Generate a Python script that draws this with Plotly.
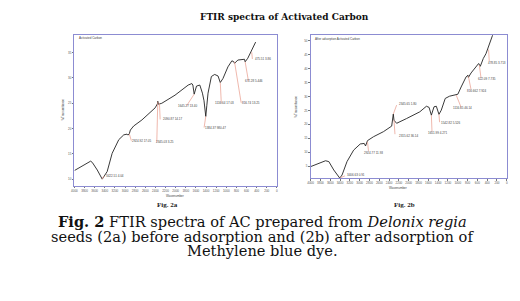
import plotly.graph_objects as go

# ---------------- data ----------------
# Fig. 2a : Activated Carbon (before adsorption)
wn_a = [4000, 3680, 3647, 3549, 3451, 3353, 3255, 3124, 3026, 2961, 2942, 2915, 2895,
        2830, 2667, 2405, 2360, 2353, 2340, 2320, 2274, 2013, 1752, 1680, 1660, 1634,
        1588, 1523, 1471, 1440, 1405, 1385, 1360, 1294, 1229, 1163, 1118, 1065, 967,
        889, 850, 836, 771, 640, 627, 575, 510, 444, 420]
tr_a = [11.7, 13.55, 13.3, 11.8, 10.0, 11.5, 15.1, 17.8, 18.75, 18.9, 18.7, 19.0, 19.7,
        20.5, 21.7, 24.1, 24.9, 25.4, 24.8, 24.9, 25.0, 26.6, 28.6, 28.9, 28.6, 26.8,
        28.4, 28.6, 27.0, 25.5, 22.4, 24.5, 27.0, 30.3, 30.7, 30.4, 29.1, 29.9, 32.2,
        33.4, 33.2, 32.9, 33.55, 33.7, 33.2, 33.9, 35.2, 36.6, 37.1]

# Fig. 2b : after adsorption of Methylene blue
wn_b = [4000, 3696, 3629, 3528, 3406, 3359, 3258, 3123, 2988, 2907, 2880, 2840, 2718,
        2516, 2347, 2330, 2314, 2300, 2280, 2246, 2044, 1774, 1639, 1585, 1538, 1484,
        1437, 1383, 1336, 1255, 1167, 1066, 998, 931, 830, 790, 783, 729, 628, 574,
        540, 479, 425, 358, 290]
tr_b = [4.9, 7.0, 6.7, 3.7, 0.8, 1.9, 6.7, 10.8, 13.0, 13.2, 12.3, 14.2, 15.6,
        17.4, 19.4, 21.0, 23.7, 21.5, 21.0, 20.4, 22.1, 24.5, 26.5, 26.1, 23.3, 26.3,
        26.5, 23.6, 25.1, 29.3, 30.1, 30.5, 30.8, 33.4, 37.0, 37.6, 36.8, 38.4, 40.6, 41.8,
        40.8, 43.6, 45.3, 48.3, 51.9]

# peak labels: text, peak (wn, value), leader end (wn, value), text position
peaks_a_text = ["3422.51 4.04", "2924.92 17.05", "2345.03 3.25", "2090.87 14.17",
                "1645.27 13.40", "1384.37 980.47", "1116.64 17.03", "816.74 13.25",
                "672.28 5.446", "475.51 3.86"]
peaks_a_wn = [3451, 2915, 2353, 2320, 1634, 1405, 1118, 837, 627, 497]
peaks_a_tr = [10.0, 18.95, 25.3, 25.0, 26.8, 22.4, 29.1, 33.2, 33.2, 35.1]
lab_a_wn = [3418, 2876, 2373, 2307, 1784, 1438, 1098, 706, 562, 484]
lab_a_tr = [10.6, 17.6, 17.3, 21.8, 24.5, 20.2, 25.0, 25.1, 29.4, 33.75]
lab_a_txt_wn = [3410, 2900, 2420, 2280, 2000, 1460, 1265, 720, 662, 478]

peaks_b_text = ["3406.63 0.91", "2924.77 11.93", "2345.65 1.80", "2315.62 36.14",
                "1651.99 4.271", "1542.82 5.526", "1116.65 46.14", "816.662 7.924",
                "622.09 7.735", "478.85 3.713"]
peaks_b_wn = [3406, 2840, 2314, 2300, 1538, 1383, 1032, 783, 560, 371]
peaks_b_tr = [0.8, 13.8, 23.7, 21.5, 23.3, 23.6, 30.5, 37.2, 41.2, 46.8]
lab_b_wn = [3300, 2820, 2246, 2280, 1525, 1370, 931, 729, 526, 358]
lab_b_tr = [1.6, 10.5, 26.9, 16.5, 17.4, 20.8, 26.1, 32.5, 36.7, 42.6]
lab_b_txt_wn = [3292, 2955, 2233, 2233, 1650, 1383, 1133, 850, 628, 425]
lab_b_txt_tr = [1.8, 9.9, 27.3, 16.0, 16.8, 20.4, 25.7, 31.9, 36.1, 42.0]

ticks_a = [10, 15, 20, 25, 30, 35]
ticks_b = [5, 10, 15, 20, 25, 30, 35, 40, 45, 50]
xticks = list(range(4000, -1, -200))

# ---------------- figure ----------------
fig = go.Figure()
LINE = "#222222"
LEAD = "#e89a8a"

fig.add_trace(go.Scatter(x=wn_a, y=tr_a, mode="lines", line=dict(color=LINE, width=0.9),
                         xaxis="x", yaxis="y", hoverinfo="skip"))
fig.add_trace(go.Scatter(x=wn_b, y=tr_b, mode="lines", line=dict(color=LINE, width=0.9),
                         xaxis="x2", yaxis="y2", hoverinfo="skip"))

for i in range(len(peaks_a_wn)):
    fig.add_trace(go.Scatter(x=[peaks_a_wn[i], lab_a_wn[i]], y=[peaks_a_tr[i], lab_a_tr[i]],
                             mode="lines", line=dict(color=LEAD, width=0.7),
                             xaxis="x", yaxis="y", hoverinfo="skip"))
for i in range(len(peaks_b_wn)):
    fig.add_trace(go.Scatter(x=[peaks_b_wn[i], lab_b_wn[i]], y=[peaks_b_tr[i], lab_b_tr[i]],
                             mode="lines", line=dict(color=LEAD, width=0.7),
                             xaxis="x2", yaxis="y2", hoverinfo="skip"))

SMALL = dict(size=3.0, color="#444444", family="Liberation Sans")
ann = []
for i, t in enumerate(peaks_a_text):
    ann.append(dict(x=lab_a_txt_wn[i], y=lab_a_tr[i], xref="x", yref="y", text=t,
                    showarrow=False, xanchor="left", yanchor="middle", font=SMALL))
for i, t in enumerate(peaks_b_text):
    ann.append(dict(x=lab_b_txt_wn[i], y=lab_b_txt_tr[i], xref="x2", yref="y2", text=t,
                    showarrow=False, xanchor="left", yanchor="middle", font=SMALL))

# panel headers
ann.append(dict(x=3950, y=38.0, xref="x", yref="y", text="Activated Carbon", showarrow=False,
                xanchor="left", yanchor="middle", font=SMALL))
ann.append(dict(x=3950, y=50.6, xref="x2", yref="y2", text="After adsorption Activated Carbon",
                showarrow=False, xanchor="left", yanchor="middle", font=SMALL))

# axis titles (tiny)
TINY = dict(size=3, color="#444", family="Liberation Sans")
ann.append(dict(x=0.334, y=1 - 196 / 301, xref="paper", yref="paper", text="Wavenumber",
                showarrow=False, font=TINY))
ann.append(dict(x=0.786, y=1 - 188 / 301, xref="paper", yref="paper", text="Wavenumber",
                showarrow=False, font=TINY))
ann.append(dict(x=56 / 520, y=1 - 110 / 301, xref="paper", yref="paper", text="%Transmittance",
                showarrow=False, textangle=-90, font=TINY))
ann.append(dict(x=295 / 520, y=1 - 107 / 301, xref="paper", yref="paper", text="%Transmittance",
                showarrow=False, textangle=-90, font=TINY))

# titles and captions
SERIF = "DejaVu Serif"
ann.append(dict(x=284 / 520, y=1 - 10 / 301, xref="paper", yref="paper",
                text="<b>FTIR spectra of Activated Carbon</b>", showarrow=False,
                font=dict(size=9, color="#111", family=SERIF)))
ann.append(dict(x=153 / 520, y=1 - 211 / 301, xref="paper", yref="paper", text="<b>Fig. 2a</b>",
                showarrow=False, font=dict(size=7, color="#222", family="Liberation Serif")))
ann.append(dict(x=417 / 520, y=1 - 211 / 301, xref="paper", yref="paper", text="<b>Fig. 2b</b>",
                showarrow=False, font=dict(size=7, color="#222", family="Liberation Serif")))
cap_lines = ["<b>Fig. 2</b> FTIR spectra of AC prepared from <i>Delonix regia</i>",
             "seeds (2a) before adsorption and (2b) after adsorption of",
             "Methylene blue dye."]
cap_y = [231.5, 246.5, 261]
for t, yy in zip(cap_lines, cap_y):
    ann.append(dict(x=262 / 520, y=1 - yy / 301, xref="paper", yref="paper", text=t,
                    showarrow=False, font=dict(size=14.6, color="#111", family=SERIF)))

AX = dict(showline=True, linecolor="#8c8cd2", linewidth=1, mirror=True, showgrid=False,
          zeroline=False, ticks="outside", ticklen=1.5, tickcolor="#777",
          tickfont=dict(size=3, color="#555", family="Liberation Sans"))

fig.update_layout(
    width=520, height=301, margin=dict(l=0, r=0, t=0, b=0),
    paper_bgcolor="white", plot_bgcolor="white", showlegend=False,
    annotations=ann,
    xaxis=dict(AX, domain=[72 / 520, 276 / 520], range=[4000, 0], tickvals=xticks, anchor="y"),
    yaxis=dict(AX, domain=[1 - 185.7 / 301, 1 - 35 / 301], range=[8.7, 38.5], tickvals=ticks_a, anchor="x"),
    xaxis2=dict(AX, domain=[310 / 520, 507.7 / 520], range=[4000, 0], tickvals=xticks, anchor="y2"),
    yaxis2=dict(AX, domain=[1 - 178 / 301, 1 - 34.7 / 301], range=[0.83, 52.1], tickvals=ticks_b, anchor="x2"),
)

fig.write_html("out.html")
